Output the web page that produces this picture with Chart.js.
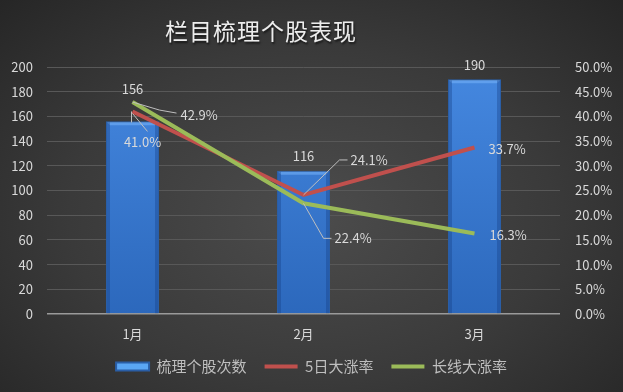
<!DOCTYPE html>
<html>
<head>
<meta charset="utf-8">
<script src="https://cdn.jsdelivr.net/npm/chart.js@4.4.1/dist/chart.umd.min.js"></script>
<style>
  html, body { margin: 0; padding: 0; }
  body {
    width: 623px; height: 392px; overflow: hidden;
    background: radial-gradient(ellipse at 50% 55%, #4c4c4c 0%, #3a3a3a 55%, #262626 100%);
  }
  #wrap { position: relative; width: 623px; height: 392px; }
</style>
</head>
<body>
<div id="wrap"><canvas id="canvas"></canvas></div>
<script>
var months = ['1月', '2月', '3月'];
var counts = [156, 116, 190];
var rate5d = [0.410, 0.241, 0.337];
var rateLong = [0.429, 0.224, 0.163];
var countTicks = [0, 20, 40, 60, 80, 100, 120, 140, 160, 180, 200];
var rateTicks = [0, 0.05, 0.10, 0.15, 0.20, 0.25, 0.30, 0.35, 0.40, 0.45, 0.50];

var FONT = "'Noto Sans CJK SC', 'Noto Sans', sans-serif";
var RED = '#c0504d';
var GREEN = '#9bbb59';

function barFill(ctx) {
  var c = ctx.chart.ctx;
  var area = ctx.chart.chartArea;
  if (!area) return '#3c7fd6';
  var g = c.createLinearGradient(0, area.top, 0, area.bottom);
  g.addColorStop(0, '#4588e0');
  g.addColorStop(1, '#2c68bc');
  return g;
}

var bgTitle = {
  id: 'bgTitle',
  afterDraw: function(chart) {
    var c = chart.ctx;
    c.save();
    c.font = '23px ' + FONT;
    c.letterSpacing = '1px';
    c.textAlign = 'center';
    c.textBaseline = 'middle';
    c.shadowColor = 'rgba(0,0,0,0.6)';
    c.shadowOffsetX = 1;
    c.shadowOffsetY = 2;
    c.shadowBlur = 2;
    c.fillStyle = '#ededed';
    c.fillText('栏目梳理个股表现', 261, 31);
    c.restore();
  }
};

// light bevel on top of each bar
var barBevel = {
  id: 'barBevel',
  afterDatasetDraw: function(chart, args) {
    if (args.index !== 0) return;
    var c = chart.ctx;
    c.save();
    args.meta.data.forEach(function(b) {
      var w = b.width, l = b.x - w / 2;
      c.fillStyle = 'rgba(120,180,250,0.55)';
      c.beginPath();
      c.moveTo(l + 1, b.y + 1);
      c.lineTo(l + w - 1, b.y + 1);
      c.lineTo(l + w - 4, b.y + 4);
      c.lineTo(l + 4, b.y + 4);
      c.closePath();
      c.fill();
      c.fillStyle = 'rgba(20,60,130,0.35)';
      c.fillRect(l + 1, b.y + 1, 3, b.base - b.y - 1);
      c.fillRect(l + w - 4, b.y + 1, 3, b.base - b.y - 1);
    });
    c.restore();
  }
};

function fmtPct(v) { return (v * 100).toFixed(1) + '%'; }

var valueLabels = {
  id: 'valueLabels',
  afterDatasetsDraw: function(chart) {
    var c = chart.ctx;
    c.save();
    c.font = '13px ' + FONT;
    c.fillStyle = '#d9d9d9';
    c.strokeStyle = '#bfbfbf';
    c.lineWidth = 1;
    c.textBaseline = 'middle';

    var bars = chart.getDatasetMeta(0).data;
    var up = [32, 15, 14];
    c.textAlign = 'center';
    bars.forEach(function(b, i) {
      c.fillText(String(counts[i]), b.x, b.y - up[i]);
    });

    var red = chart.getDatasetMeta(1).data;
    var green = chart.getDatasetMeta(2).data;

    function leader(pts) {
      c.beginPath();
      c.moveTo(pts[0], pts[1]);
      for (var k = 2; k < pts.length; k += 2) c.lineTo(pts[k], pts[k + 1]);
      c.stroke();
    }

    // 1月
    var r0 = red[0], g0 = green[0];
    leader([r0.x - 1, r0.y, r0.x - 1, r0.y + 11]);
    leader([r0.x, r0.y + 2, r0.x + 15, r0.y + 20]);
    c.textAlign = 'center';
    c.fillText(fmtPct(rate5d[0]), r0.x + 10, r0.y + 31);
    leader([g0.x, g0.y, g0.x + 27, g0.y + 8, g0.x + 44, g0.y + 11]);
    c.textAlign = 'left';
    c.fillText(fmtPct(rateLong[0]), g0.x + 48, g0.y + 13);

    // 2月
    var r1 = red[1], g1 = green[1];
    leader([r1.x, r1.y, r1.x + 36, r1.y - 35, r1.x + 44, r1.y - 35]);
    c.fillText(fmtPct(rate5d[1]), r1.x + 47, r1.y - 35);
    leader([g1.x, g1.y, g1.x + 20, g1.y + 35, g1.x + 28, g1.y + 35]);
    c.fillText(fmtPct(rateLong[1]), g1.x + 31, g1.y + 35);

    // 3月
    var r2 = red[2], g2 = green[2];
    c.fillText(fmtPct(rate5d[2]), r2.x + 14, r2.y + 2);
    c.fillText(fmtPct(rateLong[2]), g2.x + 15, g2.y + 2);
    c.restore();
  }
};

var ctx = document.getElementById('canvas').getContext('2d');
var myChart = new Chart(ctx, {
  data: {
    labels: months,
    datasets: [
      {
        type: 'bar',
        label: '梳理个股次数',
        data: counts,
        yAxisID: 'y',
        backgroundColor: barFill,
        borderColor: '#2a5ea6',
        borderWidth: 1,
        barPercentage: 0.62,
        categoryPercentage: 0.5,
        order: 3
      },
      {
        type: 'line',
        label: '5日大涨率',
        data: rate5d,
        yAxisID: 'y1',
        borderColor: RED,
        backgroundColor: RED,
        borderWidth: 4,
        pointRadius: 0,
        tension: 0,
        order: 2
      },
      {
        type: 'line',
        label: '长线大涨率',
        data: rateLong,
        yAxisID: 'y1',
        borderColor: GREEN,
        backgroundColor: GREEN,
        borderWidth: 4,
        pointRadius: 0,
        tension: 0,
        order: 1
      }
    ]
  },
  options: {
    responsive: true,
    maintainAspectRatio: false,
    animation: false,
    layout: { padding: { top: 67, left: 0, right: 0, bottom: 8 } },
    plugins: {
      title: { display: false },
      tooltip: { enabled: false },
      legend: {
        position: 'bottom',
        labels: {
          color: '#bfbfbf',
          font: { family: FONT, size: 15 },
          usePointStyle: true,
          boxHeight: 8,
          pointStyleWidth: 33,
          padding: 18,
          generateLabels: function(chart) {
            return chart.data.datasets.map(function(ds, i) {
              return {
                text: ds.label,
                datasetIndex: i,
                fillStyle: i === 0 ? '#5aa6f4' : ds.borderColor,
                strokeStyle: i === 0 ? '#2a5ea6' : ds.borderColor,
                lineWidth: i === 0 ? 2 : 4,
                pointStyle: i === 0 ? 'rect' : 'line',
                fontColor: '#bfbfbf'
              };
            });
          }
        }
      }
    },
    scales: {
      x: {
        afterFit: function(s) { s.height = 27; },
        grid: { display: false, drawTicks: false },
        border: { display: false },
        ticks: { color: '#d9d9d9', font: { family: FONT, size: 13 }, padding: 12 }
      },
      y: {
        position: 'left',
        min: 0, max: 200,
        afterFit: function(s) { s.width = 47; },
        afterBuildTicks: function(s) { s.ticks = countTicks.map(function(v) { return { value: v }; }); },
        grid: {
          color: function(c) { return c.tick.value === 0 ? '#9a9a9a' : '#585858'; },
          lineWidth: function(c) { return c.tick.value === 0 ? 1.5 : 1; },
          drawTicks: false
        },
        border: { display: false },
        ticks: { color: '#d9d9d9', font: { family: FONT, size: 13 }, padding: 14 }
      },
      y1: {
        position: 'right',
        min: 0, max: 0.5,
        afterFit: function(s) { s.width = 63; },
        afterBuildTicks: function(s) { s.ticks = rateTicks.map(function(v) { return { value: v }; }); },
        grid: { display: false, drawTicks: false },
        border: { display: false },
        ticks: {
          color: '#d9d9d9', font: { family: FONT, size: 13 }, padding: 15,
          callback: function(v) { return fmtPct(v); }
        }
      }
    }
  },
  plugins: [bgTitle, barBevel, valueLabels]
});
</script>
</body>
</html>
